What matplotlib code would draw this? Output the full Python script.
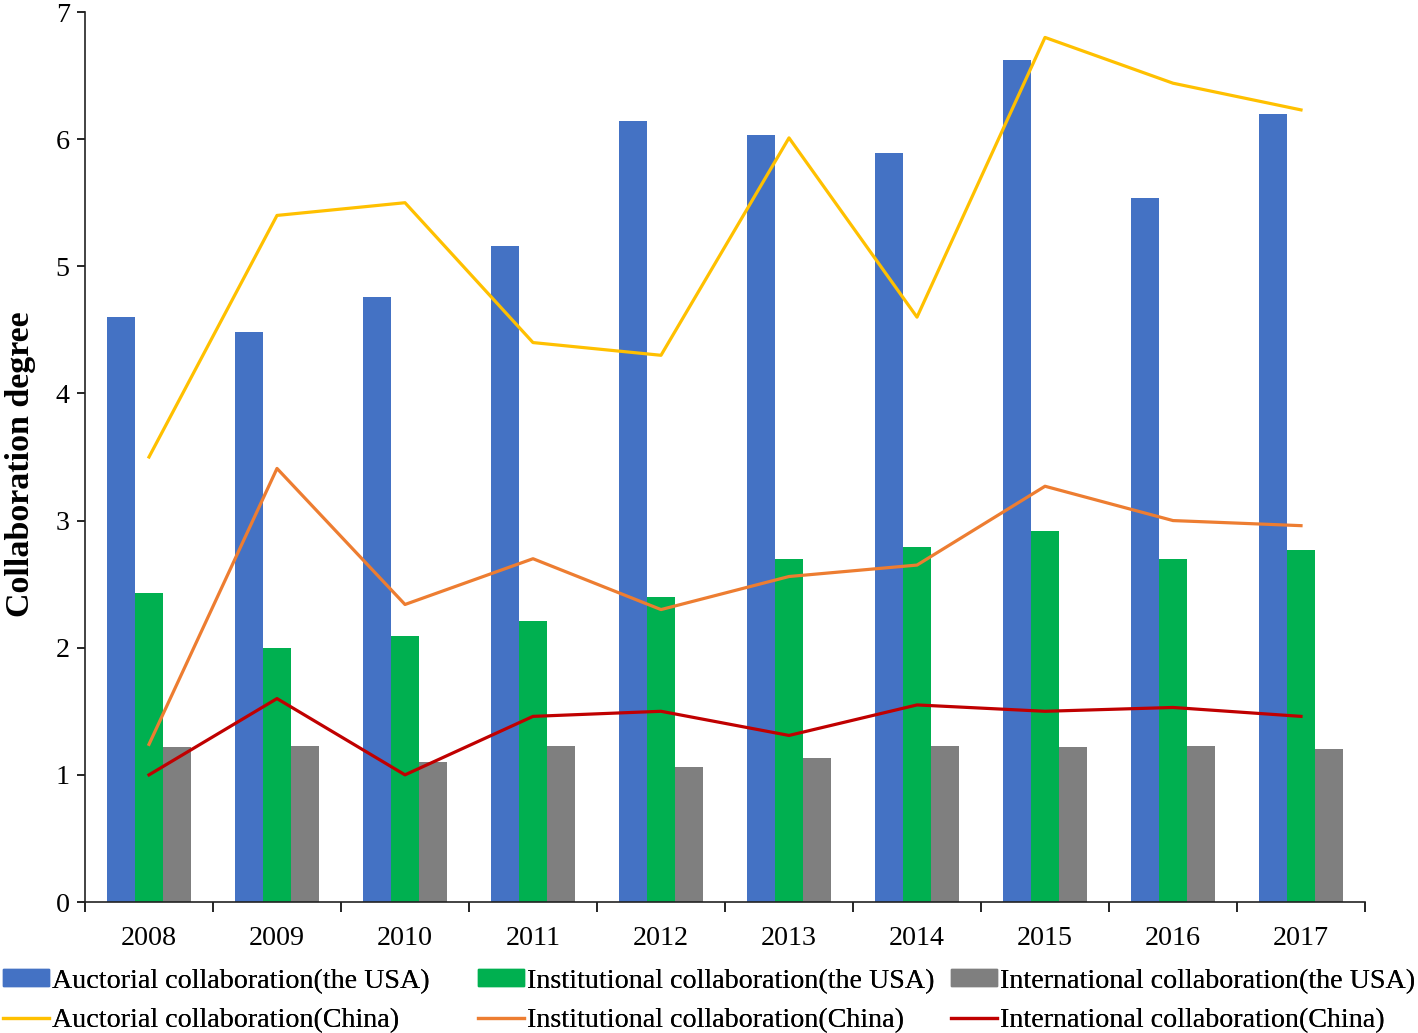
import numpy as np
import matplotlib
matplotlib.use("Agg")
import matplotlib.pyplot as plt
from matplotlib.patches import Patch
from matplotlib.lines import Line2D

years = ["2008", "2009", "2010", "2011", "2012", "2013", "2014", "2015", "2016", "2017"]
usa_auctorial = [4.60, 4.48, 4.76, 5.16, 6.14, 6.03, 5.89, 6.62, 5.54, 6.20]
usa_institutional = [2.43, 2.00, 2.09, 2.21, 2.40, 2.70, 2.79, 2.92, 2.70, 2.77]
usa_international = [1.22, 1.23, 1.10, 1.23, 1.06, 1.13, 1.23, 1.22, 1.23, 1.20]
china_auctorial = [3.50, 5.40, 5.50, 4.40, 4.30, 6.01, 4.60, 6.80, 6.44, 6.23]
china_institutional = [1.24, 3.41, 2.34, 2.70, 2.30, 2.56, 2.65, 3.27, 3.00, 2.96]
china_international = [1.00, 1.60, 1.00, 1.46, 1.50, 1.31, 1.55, 1.50, 1.53, 1.46]
yticks = [0, 1, 2, 3, 4, 5, 6, 7]

labels = ["Auctorial collaboration(the USA)", "Institutional collaboration(the USA)",
          "International collaboration(the USA)", "Auctorial collaboration(China)",
          "Institutional collaboration(China)", "International collaboration(China)"]
c_blue, c_green, c_gray = "#4472C4", "#00B050", "#7F7F7F"
c_yel, c_org, c_red = "#FFC000", "#ED7D31", "#C00000"

plt.rcParams["font.family"] = ["Liberation Serif", "DejaVu Serif"]
FS = 20.2

W, H = 1418, 1033
fig = plt.figure(figsize=(W / 100, H / 100), dpi=100)
ax = fig.add_axes([85 / W, 1 - 902 / H, (1365 - 85) / W, (902 - 12) / H])

x = np.arange(len(years))
bw = 0.21875
ax.bar(x - bw, usa_auctorial, bw, color=c_blue, zorder=2)
ax.bar(x, usa_institutional, bw, color=c_green, zorder=2)
ax.bar(x + bw, usa_international, bw, color=c_gray, zorder=2)
lw = 2.3
ax.plot(x, china_auctorial, color=c_yel, lw=lw, zorder=3)
ax.plot(x, china_institutional, color=c_org, lw=lw, zorder=3)
ax.plot(x, china_international, color=c_red, lw=lw, zorder=3)

ax.set_xlim(-0.5, len(years) - 0.5)
ax.set_ylim(0, 7)
ax.set_yticks(yticks)
ax.set_yticklabels([str(v) for v in yticks], fontsize=FS)
ax.set_xticks(np.arange(-0.5, len(years), 1))
ax.set_xticklabels([])
ax.set_xticks(x, minor=True)
ax.set_xticklabels(years, minor=True, fontsize=FS)
ax.tick_params(axis="x", which="major", length=7, width=1.2, direction="out")
ax.tick_params(axis="x", which="minor", length=0, pad=17)
ax.tick_params(axis="y", length=6, width=1.2, direction="out", pad=5)
for s in ["top", "right"]:
    ax.spines[s].set_visible(False)
for s in ["left", "bottom"]:
    ax.spines[s].set_linewidth(1.2)
    ax.spines[s].set_color("#222222")

fig.text(21 / W, 1 - 464 / H, "Collaboration degree", fontsize=24.5, fontweight="bold",
         rotation=90, ha="center", va="center")

handles = [Patch(color=c_blue), Patch(color=c_green), Patch(color=c_gray),
           Line2D([], [], color=c_yel, lw=lw), Line2D([], [], color=c_org, lw=lw),
           Line2D([], [], color=c_red, lw=lw)]
xs = [0, 475, 948]
for i in range(3):
    leg = fig.legend([handles[i], handles[i + 3]], [labels[i], labels[i + 3]],
                     loc="upper left", bbox_to_anchor=(xs[i] / W, 1 - 966 / H),
                     frameon=False, fontsize=FS, handlelength=1.65, handleheight=0.55,
                     handletextpad=0.12, labelspacing=0.5, borderpad=0.1,
                     borderaxespad=0)
    fig.add_artist(leg)

fig.savefig("out.png", dpi=100)
